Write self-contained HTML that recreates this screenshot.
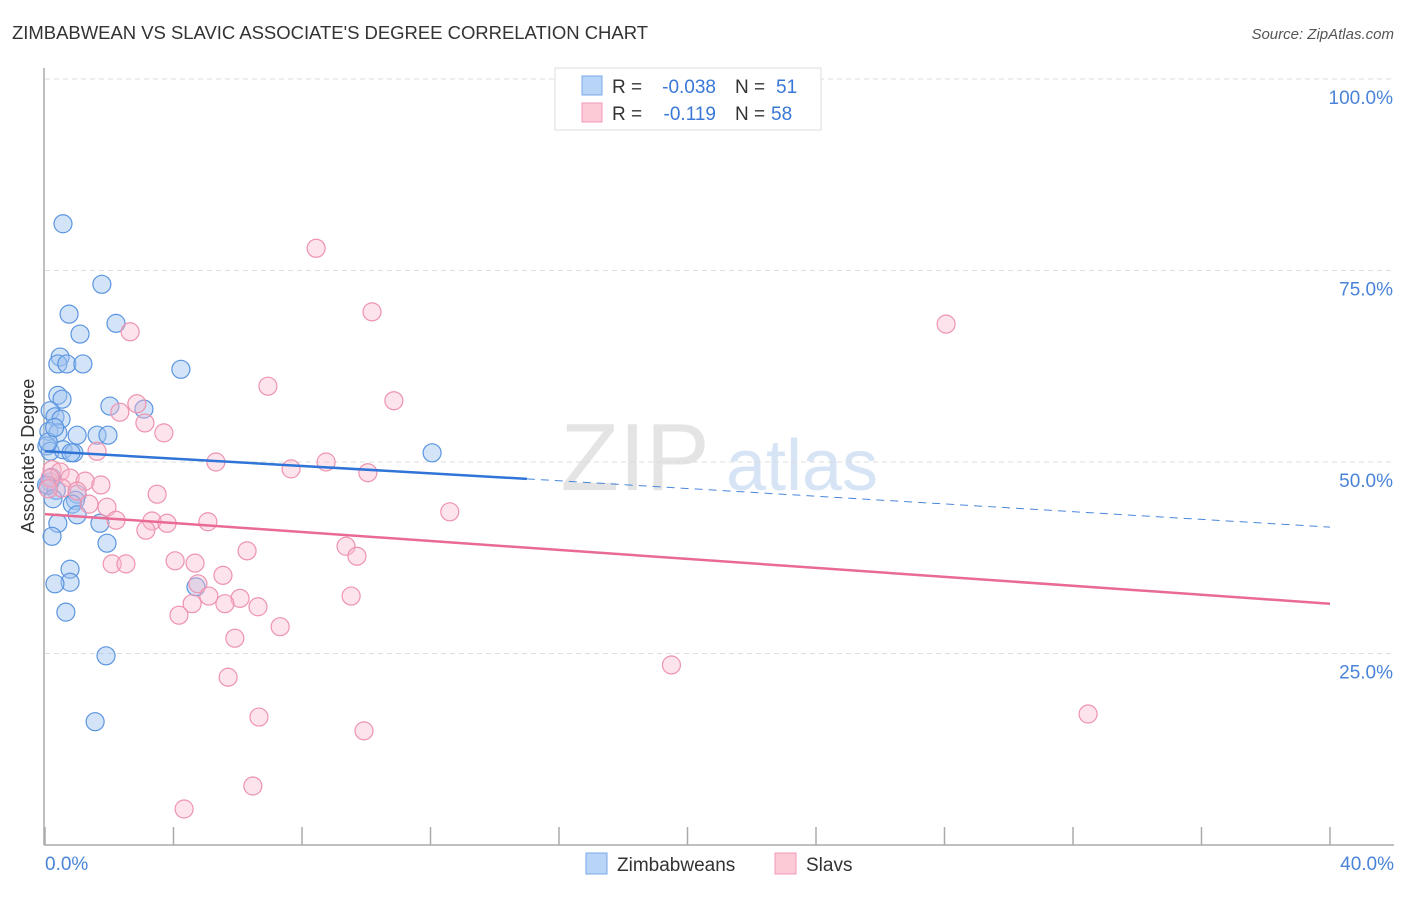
<!DOCTYPE html>
<html><head><meta charset="utf-8"><style>
body{margin:0;background:#fff;font-family:"Liberation Sans",sans-serif}
svg text{font-family:"Liberation Sans",sans-serif}
</style></head><body>
<svg id="c" width="1406" height="892" xmlns="http://www.w3.org/2000/svg">
<text x="12" y="39" font-size="18.5" fill="#333" textLength="636">ZIMBABWEAN VS SLAVIC ASSOCIATE'S DEGREE CORRELATION CHART</text>
<text x="1394" y="39" font-size="15" fill="#555" font-style="italic" text-anchor="end">Source: ZipAtlas.com</text>
<text x="635" y="490" font-size="96" fill="#e4e4e4" font-family="Liberation Serif" text-anchor="middle">ZIP</text>
<text x="802" y="490" font-size="72" fill="#d6e4f5" text-anchor="middle">atlas</text>
<g id="grid"></g><g id="axes"></g><g id="pts"></g><g id="lines"></g>
<text transform="translate(34,456) rotate(-90)" font-size="18" fill="#333" text-anchor="middle">Associate's Degree</text>
<g>
<rect x="555" y="68" width="266" height="62" fill="#fff" stroke="#ddd"/>
<rect x="582" y="76" width="20" height="19" fill="#b8d4f6" stroke="#7aa9e8"/>
<rect x="582" y="103" width="20" height="19" fill="#fcc9d7" stroke="#f19ab5"/>
<text x="612" y="93" font-size="19" fill="#333">R =</text>
<text x="716" y="93" font-size="19" fill="#3a78d8" text-anchor="end">-0.038</text>
<text x="735" y="93" font-size="19" fill="#333">N =</text>
<text x="776" y="93" font-size="19" fill="#3a78d8">51</text>
<text x="612" y="120" font-size="19" fill="#333">R =</text>
<text x="716" y="120" font-size="19" fill="#3a78d8" text-anchor="end">-0.119</text>
<text x="735" y="120" font-size="19" fill="#333">N =</text>
<text x="771" y="120" font-size="19" fill="#3a78d8">58</text>
</g>
<g>
<rect x="586" y="853" width="21" height="21" fill="#b8d4f6" stroke="#7aa9e8"/>
<text x="617" y="871" font-size="19" fill="#333">Zimbabweans</text>
<rect x="775" y="853" width="21" height="21" fill="#fcc9d7" stroke="#f19ab5"/>
<text x="806" y="871" font-size="19" fill="#333">Slavs</text>
</g>
</svg>
<script>
const blueX=[0.56,1.77,0.75,2.21,1.09,4.23,0.47,0.40,0.68,1.18,0.40,0.53,0.16,0.31,0.5,2.02,3.08,0.12,0.40,1.0,1.62,1.96,0.06,0.16,0.56,0.9,0.81,12.05,0.16,0.1,0.35,1.0,0.95,0.85,1.0,0.4,1.71,0.22,1.93,0.78,0.78,0.31,0.65,4.7,1.9,1.56,0.1,0.3,0.2,0.05,0.25];
const blueY=[81.1,73.2,69.3,68.1,66.7,62.1,63.7,62.8,62.8,62.8,58.7,58.2,56.7,55.9,55.6,57.3,56.9,54.0,53.8,53.5,53.5,53.5,52.1,51.4,51.6,51.2,51.2,51.2,47.4,46.9,46.3,45.8,45.0,44.5,43.1,42.0,42.0,40.3,39.4,36.0,34.3,34.1,30.4,33.7,24.7,16.1,52.6,54.5,48.0,47.0,45.2];
const pinkX=[8.44,10.18,28.05,2.65,6.94,10.86,2.86,2.33,3.11,3.7,1.62,5.32,8.75,7.66,10.05,0.22,0.47,0.16,0.78,1.25,1.74,0.53,1.0,1.37,1.93,2.21,3.49,3.33,3.8,5.07,3.14,12.6,6.29,9.37,9.71,4.05,4.67,2.09,2.52,5.54,4.76,5.1,6.07,9.53,4.58,5.6,6.63,4.17,7.32,5.91,19.5,5.7,6.66,32.47,9.93,6.47,4.33,0.1];
const pinkY=[77.9,69.6,68.0,67.0,59.9,58.0,57.6,56.5,55.1,53.8,51.4,50.0,50.0,49.1,48.6,49.0,48.7,47.9,47.9,47.5,47.0,46.6,46.2,44.5,44.1,42.4,45.8,42.3,42.0,42.2,41.1,43.5,38.4,39.0,37.7,37.1,36.8,36.7,36.7,35.2,34.1,32.5,32.2,32.5,31.5,31.5,31.1,30.0,28.5,27.0,23.5,21.9,16.7,17.1,14.9,7.7,4.7,46.5];
const yTicks=[100,75,50,25];
const yTickLabels=["100.0%","75.0%","50.0%","25.0%"];
const xTicks=[0,4,8,12,16,20,24,28,32,36,40];
const blueTrend=[51.4,47.8,41.5]; // at x=0,15,40
const pinkTrend=[43.2,31.5]; // at x=0,40
const NS='http://www.w3.org/2000/svg';
const X=v=>45+v/40*1285, Y=v=>845-v/100*766;
function mk(t,a,p){const e=document.createElementNS(NS,t);for(const k in a)e.setAttribute(k,a[k]);p.appendChild(e);return e;}
const grid=document.getElementById('grid'),axes=document.getElementById('axes'),pts=document.getElementById('pts'),lines=document.getElementById('lines');
yTicks.forEach((t,i)=>{
 const l=mk('line',{x1:45,x2:1394,y1:Y(t),y2:Y(t),stroke:'#ddd','stroke-dasharray':'5,4'},grid);
 
 
 const tx=mk('text',{x:1393,y:Y(t)+25,'font-size':19,fill:'#4a84d8','text-anchor':'end'},axes);
 tx.textContent=yTickLabels[i];
 
 
});
let a=mk('line',{x1:44,x2:44,y1:68,y2:845,stroke:'#aaa','stroke-width':1.5},axes);


a=mk('line',{x1:44,x2:1394,y1:845,y2:845,stroke:'#aaa','stroke-width':1.5},axes);


xTicks.forEach(t=>{
 const l=mk('line',{x1:X(t),x2:X(t),y1:827,y2:845,stroke:'#aaa','stroke-width':1.5},axes);
 
 
});
[[0,'0.0%','start',45],[40,'40.0%','end',1394]].forEach(([v,s,an,px])=>{
 const tx=mk('text',{x:px,y:870,'font-size':19,fill:'#4a84d8','text-anchor':an},axes);
 tx.textContent=s;
 
 
});
blueX.forEach((v,i)=>{
 const c=mk('circle',{cx:X(v),cy:Y(blueY[i]),r:9,fill:'rgba(160,196,240,0.45)',stroke:'#5b95e0','stroke-width':1.2},pts);
 
 
});
pinkX.forEach((v,i)=>{
 const c=mk('circle',{cx:X(v),cy:Y(pinkY[i]),r:9,fill:'rgba(250,185,205,0.4)',stroke:'#ee93b0','stroke-width':1.2},pts);
 
 
});
let t=mk('line',{x1:X(0),y1:Y(blueTrend[0]),x2:X(15),y2:Y(blueTrend[1]),stroke:'#2f74d6','stroke-width':2.5},lines);


t=mk('line',{x1:X(15),y1:Y(blueTrend[1]),x2:X(40),y2:Y(blueTrend[2]),stroke:'#4a86da','stroke-width':1,'stroke-dasharray':'8,6'},lines);


t=mk('line',{x1:X(0),y1:Y(pinkTrend[0]),x2:X(40),y2:Y(pinkTrend[1]),stroke:'#e86a95','stroke-width':2.5},lines);


</script>
</body></html>
